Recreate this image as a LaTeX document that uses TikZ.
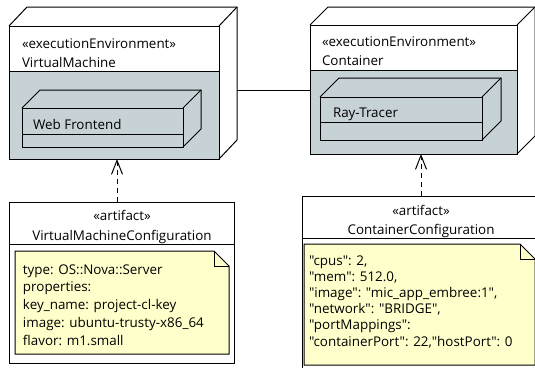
\documentclass[tikz,border=0pt]{standalone}
\usepackage{fontspec}
\setmainfont{Open Sans}
% plain family without TeX ligatures, so that " stays a straight quote
\newfontfamily\notefont{Open Sans}
\usetikzlibrary{arrows.meta}
\definecolor{envfill}{HTML}{C6D2D6}
\definecolor{notefill}{HTML}{FFFFCC}
\newcommand{\notelines}[1]{\begin{tabular}[t]{@{}l@{}}#1\end{tabular}}
\tikzset{
  edge/.style={draw=black, line width=1pt, line join=miter},
  face/.style={edge, inner sep=0pt, outer sep=0pt, anchor=north west},
  txt/.style={inner sep=0pt, outer sep=0pt, anchor=base west, font=\fontsize{13.4}{15}\selectfont},
  ctxt/.style={txt, anchor=base},
  notetxt/.style={txt},
  dep/.style={edge, dash pattern=on 5pt off 4pt, -{Straight Barb[length=14pt,width=11pt,line width=1pt]}},
}
\begin{document}
\begin{tikzpicture}[x=1pt,y=-1pt]
\useasboundingbox (0,0) rectangle (535,367);
\clip (0,0) rectangle (535,367);

% ---------- execution environment: VirtualMachine ----------
\node[face, fill=white, minimum width=210pt, minimum height=133pt] (vm) at (9,26) {};
\fill[envfill] (9,71) rectangle (219,159);
\draw[edge] (9,71) -- (219,71);
\draw[edge] (vm.north west) -- ++(18,-19) -- ++(210,0) -- ++(0,133) -- (vm.south east);
\draw[edge] (vm.north east) -- ++(18,-19);
\draw[edge] (vm.north west) rectangle (vm.south east);
\node[txt] (vmst) at (22,48) {«executionEnvironment»};
\node[txt] (vmname) at (22,67) {VirtualMachine};

% nested node: Web Frontend
\node[face, minimum width=161pt, minimum height=39pt] (wf) at (22,108) {};
\draw[edge] (wf.north west) -- ++(18,-18) -- ++(161,0) -- ++(0,39) -- (wf.south east);
\draw[edge] (wf.north east) -- ++(18,-18);
\draw[edge] (22,134) -- (183,134);
\node[txt] (wfname) at (33,129) {Web Frontend};

% ---------- execution environment: Container ----------
\node[face, fill=white, minimum width=207pt, minimum height=129pt] (ct) at (310,25) {};
\fill[envfill] (310,70) rectangle (517,154);
\draw[edge] (310,70) -- (517,70);
\draw[edge] (ct.north west) -- ++(18,-18) -- ++(207,0) -- ++(0,129) -- (ct.south east);
\draw[edge] (ct.north east) -- ++(18,-18);
\draw[edge] (ct.north west) rectangle (ct.south east);
\node[txt] (ctst) at (322,46) {«executionEnvironment»};
\node[txt] (ctname) at (322,65) {Container};

% nested node: Ray-Tracer
\node[face, minimum width=162pt, minimum height=43pt] (rt) at (320,97) {};
\draw[edge] (rt.north west) -- ++(19,-19) -- ++(162,0) -- ++(0,43) -- (rt.south east);
\draw[edge] (rt.north east) -- ++(19,-19);
\draw[edge] (320,122) -- (482,122);
\node[txt] (rtname) at (333,117) {Ray-Tracer};

% communication path between the environments
\coordinate (vmside) at (237,90);
\draw[edge] (vmside) -- (vmside -| ct.west);

% ---------- artifact: VirtualMachineConfiguration ----------
\node[face, fill=white, minimum width=225pt, minimum height=161pt] (vmc) at (9,202) {};
\draw[edge] (9,244) -- (234,244);
\node[ctxt] (vmcst) at (122,220) {«artifact»};
\node[ctxt] (vmcname) at (122,240) {VirtualMachineConfiguration};
\path[edge, fill=notefill] (15,251) -- (214,251) -- (229,266) -- (229,354) -- (15,354) -- cycle;
\draw[edge] (214,251) -- (214,266) -- (229,266);
\node[notetxt, font=\notefont\fontsize{13.4}{17.8}\selectfont] (vmcnote) at (23,274)
  {\notelines{type: OS::Nova::Server\\properties:\\key\_name: project-cl-key\\image: ubuntu-trusty-x86\_64\\flavor: m1.small}};

% ---------- artifact: ContainerConfiguration ----------
\node[face, fill=white, minimum width=238pt, minimum height=190pt] (ctc) at (302,196) {};
\draw[edge] (302,238) -- (540,238);
\node[ctxt] (ctcst) at (421,215) {«artifact»};
\node[ctxt] (ctcname) at (421,234) {ContainerConfiguration};
\path[edge, fill=notefill] (304,244) -- (520,244) -- (535,259) -- (535,365) -- (304,365) -- cycle;
\draw[edge] (520,244) -- (520,259) -- (535,259);
\node[notetxt, font=\notefont\fontsize{13.4}{16.2}\selectfont] (ctcnote) at (309,265)
  {\notelines{"cpus": 2,\\"mem": 512.0,\\"image": "mic\_app\_embree:1",\\"network": "BRIDGE",\\"portMappings":\\"containerPort": 22,"hostPort": 0}};

% deployment dependencies
\draw[dep] ([xshift=-4.5pt]vmc.north) -- ([xshift=-4.5pt]vmc.north |- vm.south);
\draw[dep] (ctc.north) -- (ctc.north |- ct.south);
\end{tikzpicture}
\end{document}
